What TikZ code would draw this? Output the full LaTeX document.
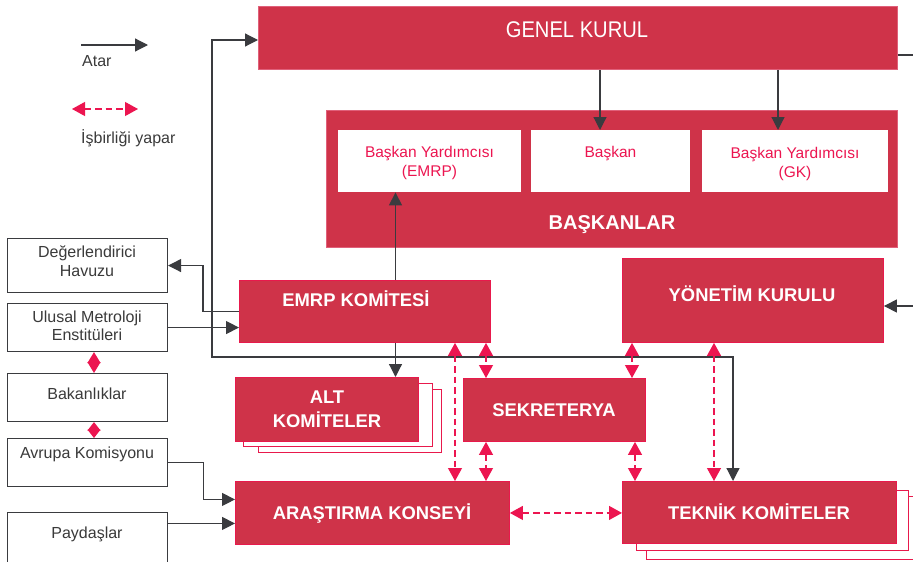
\documentclass[tikz,border=0pt]{standalone}
\usepackage{fontspec}
\setmainfont{Liberation Sans}
\usetikzlibrary{arrows.meta,calc}
\definecolor{boxred}{HTML}{CF3349}
\definecolor{edgered}{HTML}{E8194C}
\definecolor{edgesoft}{HTML}{E0607A}
\definecolor{linkpink}{HTML}{EC1550}
\definecolor{darkline}{HTML}{3A3B3F}
\definecolor{graytext}{HTML}{3A3A3A}
\tikzset{
  redbox/.style={draw=edgered, fill=boxred, line width=0.9pt, anchor=north west, inner sep=0pt},
  softbox/.style={draw=edgesoft, fill=boxred, line width=0.9pt, anchor=north west, inner sep=0pt},
  whitebox/.style={draw=none, fill=white, anchor=north west, inner sep=0pt},
  greybox/.style={draw=darkline, fill=white, line width=1.1pt, anchor=north west, inner sep=0pt},
  copybox/.style={draw=edgered, fill=white, line width=0.9pt},
  boldlbl/.style={text=white, font=\bfseries\fontsize{18.4}{20}\selectfont, anchor=base, inner sep=0pt},
  pinklbl/.style={text=linkpink, font=\fontsize{15.5}{18}\selectfont, anchor=base, inner sep=0pt},
  graylbl/.style={text=graytext, font=\fontsize{16}{18}\selectfont, anchor=base, inner sep=0pt},
  arr/.style={draw=darkline, line width=1.2pt, -{Triangle[length=13pt,width=13pt]}},
  arrboth/.style={draw=darkline, line width=1.2pt, {Triangle[length=13pt,width=13pt]}-{Triangle[length=13pt,width=13pt]}},
  plainline/.style={draw=darkline, line width=1.2pt},
  link/.style={draw=linkpink, line width=1.2pt, dash pattern=on 6.5pt off 4pt,
     {Triangle[length=13pt,width=14pt]}-{Triangle[length=13pt,width=14pt]}},
  linkshort/.style={draw=linkpink, line width=1.2pt,
     {Triangle[length=11pt,width=13pt]}-{Triangle[length=11pt,width=13pt]}},
  linkshorter/.style={draw=linkpink, line width=1.2pt,
     {Triangle[length=8.5pt,width=13pt]}-{Triangle[length=8.5pt,width=13pt]}},
}
\begin{document}
\begin{tikzpicture}[x=1pt,y=-1pt]
\useasboundingbox (0,0) rectangle (913,562);
\clip (0,0) rectangle (913,562);

% ---- legend
\coordinate (la1) at (81,45);
\coordinate (la2) at (148,45);
\draw[arr] (la1) -- (la2);
\node[graylbl, anchor=base west] (atar) at (82,66) {Atar};
\coordinate (lb1) at (72,109);
\coordinate (lb2) at (138,109);
\draw[link] (lb1) -- (lb2);
\node[graylbl, anchor=base west] (isb) at (81,143) {İşbirliği yapar};

% ---- top boxes
\node[softbox, minimum width=639, minimum height=63] (gk) at (258,6) {};
\node[text=white, font=\fontsize{21}{24}\selectfont, anchor=base, inner sep=0pt, yscale=1.08, xscale=0.96] (gkt) at (577,37.5) {GENEL KURUL};

\node[softbox, minimum width=571, minimum height=137] (bas) at (326,110) {};
\node[whitebox, minimum width=183, minimum height=62] (bye) at (338,130) {};
\node[whitebox, minimum width=159, minimum height=62] (bsk) at (531,130) {};
\node[whitebox, minimum width=186, minimum height=62] (byg) at (702,130) {};
\node[pinklbl] (byet1) at (429.5,157) {Başkan Yardımcısı};
\node[pinklbl] (byet2) at (429.5,176) {(EMRP)};
\node[pinklbl] (bskt) at (610.5,157) {Başkan};
\node[pinklbl] (bygt1) at (795,158) {Başkan Yardımcısı};
\node[pinklbl] (bygt2) at (795,177) {(GK)};
\node[text=white, font=\bfseries\fontsize{20}{22}\selectfont, anchor=base, inner sep=0pt] (bast) at (612,229) {BAŞKANLAR};

% ---- middle red boxes
\node[redbox, minimum width=251, minimum height=62] (emrp) at (239,280) {};
\node[boldlbl] (emrpt) at (356,306.5) {EMRP KOMİTESİ};
\node[redbox, minimum width=261, minimum height=84] (yk) at (622,258) {};
\node[boldlbl] (ykt) at (752,301.5) {YÖNETİM KURULU};

\draw[copybox] (258,389) rectangle (441,452);
\draw[copybox] (243,383) rectangle (432,446);
\node[redbox, minimum width=183, minimum height=64] (alt) at (235,377) {};
\node[boldlbl] (altt1) at (327,403.5) {ALT};
\node[boldlbl] (altt2) at (327,427.5) {KOMİTELER};

\node[redbox, minimum width=182, minimum height=63] (sek) at (463,378) {};
\node[boldlbl] (sekt) at (554,416.5) {SEKRETERYA};

\node[redbox, minimum width=274, minimum height=63] (ar) at (235,481) {};
\node[boldlbl] (art) at (372,519.5) {ARAŞTIRMA KONSEYİ};

\draw[copybox] (646,496) rectangle (930,559);
\draw[copybox] (636,490) rectangle (908,550);
\node[redbox, minimum width=274, minimum height=62] (tk) at (622,481) {};
\node[boldlbl] (tkt) at (759,519.5) {TEKNİK KOMİTELER};

% ---- left boxes
\node[greybox, minimum width=160, minimum height=54] (dh) at (7,238) {};
\node[graylbl] (dht1) at (87,257) {Değerlendirici};
\node[graylbl] (dht2) at (87,276) {Havuzu};
\node[greybox, minimum width=160, minimum height=48] (ume) at (7,303) {};
\node[graylbl] (umet1) at (87,322) {Ulusal Metroloji};
\node[graylbl] (umet2) at (87,340) {Enstitüleri};
\node[greybox, minimum width=160, minimum height=48] (bak) at (7,373) {};
\node[graylbl] (bakt) at (87,399) {Bakanlıklar};
\node[greybox, minimum width=160, minimum height=48] (ak) at (7,438) {};
\node[graylbl] (akt) at (87,458) {Avrupa Komisyonu};
\node[greybox, minimum width=160, minimum height=60] (pay) at (7,512) {};
\node[graylbl] (payt) at (87,538) {Paydaşlar};

% ---- helper coordinates
\coordinate (rgk) at (913,55);
\coordinate (ryk) at (913,306);
\coordinate (loopTL) at (212,40);
\coordinate (loopBL) at (212,357);
\coordinate (loopBR) at (733,357);
\coordinate (x395) at (395.5,0);
\coordinate (x600) at (600,0);
\coordinate (x778) at (778,0);
\coordinate (x455) at (455,0);
\coordinate (x486) at (486,0);
\coordinate (x632) at (632,0);
\coordinate (x635) at (635,0);
\coordinate (x714) at (714,0);
\coordinate (x94) at (94,0);
\coordinate (arin1) at ([yshift=13.5pt]ar.west);
\coordinate (arin2) at ([yshift=-10.5pt]ar.west);

% ---- dark connectors
\draw[plainline] (gk.east |- rgk) -- (rgk);
\draw[arr] (ryk) -- (ryk -| yk.east);
\draw[arrboth] (gk.west |- loopTL) -- (loopTL) -- (loopBL) -- (loopBR) -- (loopBR |- tk.north);
\draw[arr] (gk.south -| x600) -- (bsk.north -| x600);
\draw[arr] (gk.south -| x778) -- (byg.north -| x778);
\draw[arr] (emrp.north -| x395) -- (bye.south -| x395);
\draw[arr] (emrp.south -| x395) -- (alt.north -| x395);
\draw[arr] (emrp.west) -- ++(-36,0) |- (dh.east);
\draw[arr] (ume.east) -- (ume.east -| emrp.west);
\draw[arr] (ak.east) -- ++(35,0) |- (arin1);
\draw[arr] (pay.east |- arin2) -- (arin2);

% ---- pink links
\draw[link] (emrp.south -| x455) -- (ar.north -| x455);
\draw[link] (emrp.south -| x486) -- (sek.north -| x486);
\draw[link] (sek.south -| x486) -- (ar.north -| x486);
\draw[link] (yk.south -| x632) -- (sek.north -| x632);
\draw[link] (sek.south -| x635) -- (tk.north -| x635);
\draw[link] (yk.south -| x714) -- (tk.north -| x714);
\draw[link] (ar.east) -- (ar.east -| tk.west);
\draw[linkshort] (ume.south -| x94) -- (bak.north -| x94);
\draw[linkshorter] (bak.south -| x94) -- (ak.north -| x94);
\end{tikzpicture}
\end{document}
